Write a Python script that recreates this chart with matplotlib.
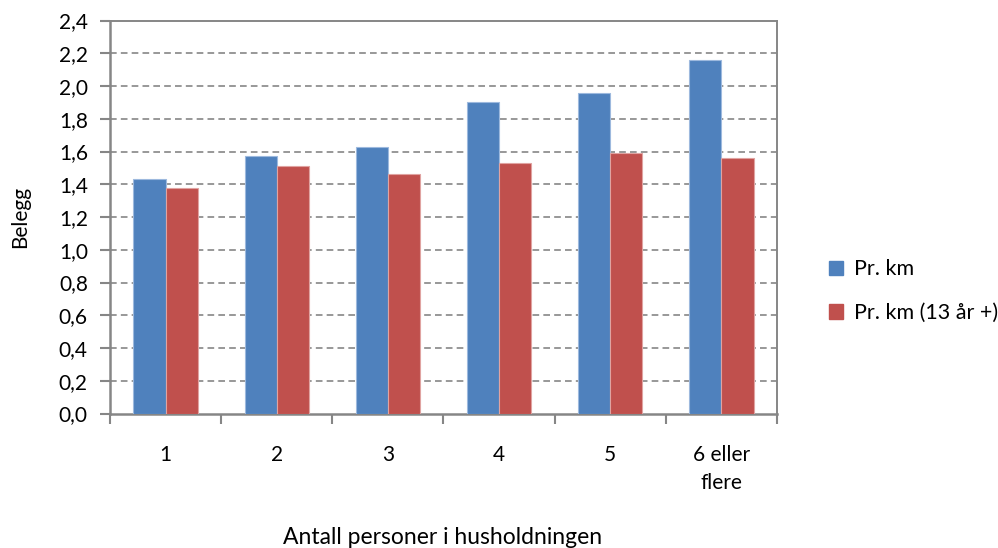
import matplotlib
matplotlib.use("Agg")
import matplotlib.pyplot as plt
import numpy as np
from matplotlib.patches import Patch

categories = ["1", "2", "3", "4", "5", "6 eller\nflere"]
pr_km = [1.43, 1.57, 1.63, 1.90, 1.96, 2.16]
pr_km_13 = [1.38, 1.51, 1.46, 1.53, 1.59, 1.56]
series_names = ["Pr. km", "Pr. km (13 år +)"]
y_ticks = [0.0, 0.2, 0.4, 0.6, 0.8, 1.0, 1.2, 1.4, 1.6, 1.8, 2.0, 2.2, 2.4]

plt.rcParams["font.family"] = ["Lato", "DejaVu Sans"]
FS = 15

blue = "#4F81BD"
red = "#C0504D"
grey = "#868686"

fig = plt.figure(figsize=(9.98, 5.48), dpi=100)
ax = fig.add_axes([110 / 998, 1 - 413.5 / 548, 667 / 998, 393 / 548])

x = np.arange(len(categories))
w = 0.29
ax.bar(x - w / 2, pr_km, w, color=blue, edgecolor="#9DB9DE", linewidth=0.8, zorder=3)
ax.bar(x + w / 2, pr_km_13, w, color=red, edgecolor="#E0A3A1", linewidth=0.8, zorder=3)

ax.set_xlim(-0.5, len(categories) - 0.5)
ax.set_ylim(0, 2.4)
ax.set_yticks(y_ticks)
ax.set_yticklabels([f"{v:.1f}".replace(".", ",") for v in y_ticks], fontsize=FS)

for v in y_ticks[1:-1]:
    ax.axhline(v, color=grey, linestyle=(0, (4, 2.5)), linewidth=1.2, zorder=1)

ax.set_xticks(x)
ax.set_xticklabels(categories, fontsize=FS, linespacing=1.45)
ax.tick_params(axis="x", length=0, pad=23)
ax.set_xticks(np.arange(len(categories) + 1) - 0.5, minor=True)
ax.tick_params(axis="x", which="minor", length=7, width=1.5, color=grey, direction="out")
ax.tick_params(axis="y", length=7, width=1.5, color=grey, direction="out", pad=9)

for side in ["left", "bottom"]:
    ax.spines[side].set_color(grey)
    ax.spines[side].set_linewidth(1.8)
for side in ["top", "right"]:
    ax.spines[side].set_color(grey)
    ax.spines[side].set_linewidth(1.4)

ax.set_ylabel("Belegg", fontsize=FS)
ax.yaxis.set_label_coords(-80 / 667, 0.5)
fig.text(443 / 998, 1 - 537 / 548, "Antall personer i husholdningen",
         fontsize=FS + 1.5, ha="center", va="center")

handles = [Patch(facecolor=blue, edgecolor=blue), Patch(facecolor=red, edgecolor=red)]
fig.legend(handles, series_names, loc="upper left",
           bbox_to_anchor=(810 / 998, 1 - 240 / 548), frameon=False,
           fontsize=FS + 0.5, handlelength=0.65, handleheight=0.65,
           handletextpad=0.5, labelspacing=1.1)

fig.savefig("out.png", dpi=100)
